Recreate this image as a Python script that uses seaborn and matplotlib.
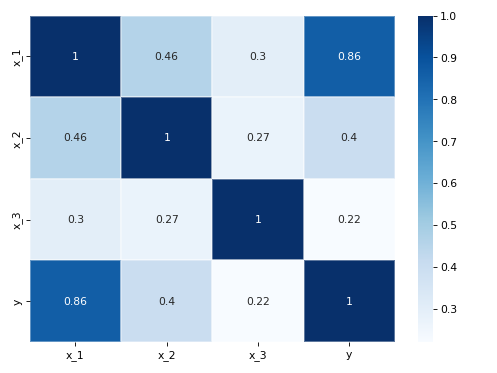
import matplotlib
matplotlib.use("Agg")
import matplotlib.pyplot as plt
import numpy as np
import pandas as pd
import seaborn as sns

labels = ["x_1", "x_2", "x_3", "y"]
row_x1 = [1.0, 0.46, 0.30, 0.86]
row_x2 = [0.46, 1.0, 0.27, 0.40]
row_x3 = [0.30, 0.27, 1.0, 0.22]
row_y = [0.86, 0.40, 0.22, 1.0]

corr = pd.DataFrame([row_x1, row_x2, row_x3, row_y], index=labels, columns=labels)

fig = plt.figure(figsize=(6.4, 4.8), dpi=77.8)
ax = fig.add_axes([0.060, 0.083, 0.733, 0.874])
cax = fig.add_axes([0.839, 0.083, 0.030, 0.874])

# thin translucent seams between the cells
sns.heatmap(corr, annot=True, cmap="Blues", linewidths=0.3,
            linecolor=(1, 1, 1, 0.35), ax=ax, cbar_ax=cax)

fig.savefig("out.png", dpi=77.8)
